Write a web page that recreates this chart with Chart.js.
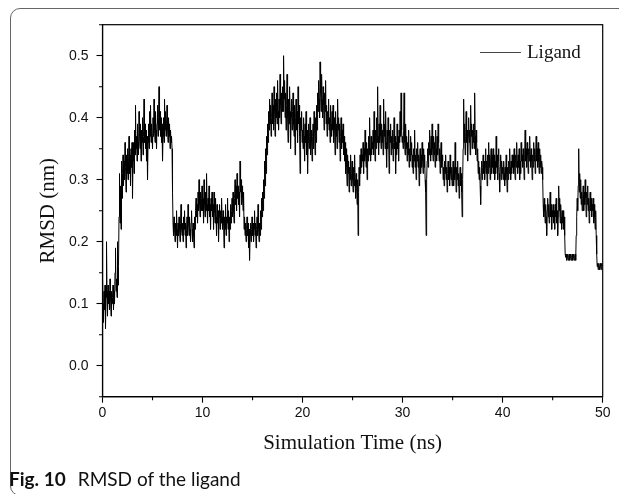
<!DOCTYPE html>
<html>
<head>
<meta charset="utf-8">
<script src="https://cdn.jsdelivr.net/npm/chart.js@4.4.1/dist/chart.umd.min.js"></script>
<style>
html,body{margin:0;padding:0;background:#fff;width:619px;height:494px;overflow:hidden;}
#wrap{position:relative;width:619px;height:494px;}
#frame{position:absolute;left:10px;top:8px;width:640px;height:488px;border:1.5px solid #666;border-radius:10px;box-sizing:border-box;}
#c{position:absolute;left:0;top:0;}
#legend{position:absolute;left:480px;top:42px;height:19px;font-family:'Liberation Serif',serif;font-size:19px;line-height:19px;color:#111;white-space:nowrap;}
#legend .ln{position:absolute;left:0;top:10px;width:41px;height:1px;background:#444;}
#legend .tx{position:absolute;left:47px;top:0;}
#caption{position:absolute;left:9px;top:469px;font-family:Lato,'Open Sans',sans-serif;font-size:19px;line-height:20px;color:#111;white-space:nowrap;}
#caption b{font-weight:700;margin-right:12px;}
</style>
</head>
<body>
<div id="wrap">
  <div id="frame"></div>
  <canvas id="c" width="619" height="494"></canvas>
  <div id="legend"><div class="ln"></div><div class="tx">Ligand</div></div>
  <div id="caption"><b>Fig. 10</b>RMSD of the ligand</div>
</div>
<script>
// Simulation sampling (ns) and RMSD values (nm), one row per ns
const timeStartNs = 0;
const timeStepNs = 0.05;
const rmsdNm = [
  0.14,0.10,0.07,0.12,0.09,0.13,0.06,0.11,0.20,0.12,0.08,0.13,0.10,0.12,0.09,0.14,0.11,0.08,0.12,0.10,
  0.11,0.13,0.09,0.12,0.10,0.15,0.19,0.12,0.14,0.11,0.20,0.13,0.16,0.24,0.31,0.23,0.29,0.22,0.33,0.27,
  0.31,0.34,0.29,0.33,0.30,0.36,0.32,0.28,0.34,0.31,0.35,0.30,0.33,0.37,0.31,0.34,0.29,0.35,0.32,0.36,
  0.27,0.33,0.36,0.31,0.38,0.34,0.42,0.35,0.37,0.33,0.39,0.36,0.34,0.41,0.37,0.35,0.39,0.33,0.38,0.36,
  0.40,0.34,0.37,0.43,0.36,0.39,0.35,0.38,0.33,0.37,0.30,0.36,0.39,0.35,0.41,0.37,0.42,0.36,0.39,0.37,
  0.35,0.40,0.37,0.43,0.38,0.36,0.41,0.38,0.35,0.39,0.42,0.37,0.40,0.45,0.38,0.41,0.37,0.40,0.36,0.39,
  0.33,0.37,0.40,0.36,0.43,0.38,0.41,0.37,0.39,0.42,0.38,0.36,0.40,0.37,0.39,0.35,0.38,0.36,0.37,0.35,
  0.28,0.23,0.21,0.24,0.22,0.20,0.23,0.21,0.25,0.22,0.19,0.23,0.21,0.24,0.22,0.20,0.23,0.26,0.22,0.21,
  0.23,0.20,0.24,0.22,0.25,0.21,0.23,0.19,0.22,0.24,0.21,0.26,0.23,0.21,0.24,0.22,0.20,0.23,0.25,0.22,
  0.20,0.23,0.21,0.19,0.24,0.22,0.25,0.27,0.24,0.26,0.23,0.28,0.25,0.30,0.26,0.24,0.28,0.25,0.27,0.29,
  0.25,0.27,0.23,0.30,0.26,0.24,0.28,0.25,0.31,0.26,0.23,0.27,0.25,0.29,0.24,0.26,0.22,0.27,0.25,0.28,
  0.24,0.26,0.22,0.28,0.25,0.23,0.27,0.24,0.21,0.26,0.23,0.25,0.20,0.24,0.26,0.22,0.25,0.23,0.27,0.24,
  0.22,0.25,0.23,0.19,0.24,0.22,0.26,0.21,0.24,0.23,0.27,0.22,0.25,0.20,0.24,0.22,0.26,0.23,0.25,0.27,
  0.24,0.28,0.25,0.23,0.27,0.30,0.26,0.29,0.25,0.31,0.27,0.29,0.26,0.28,0.24,0.33,0.28,0.30,0.26,0.29,
  0.27,0.25,0.28,0.22,0.24,0.21,0.23,0.20,0.22,0.24,0.21,0.23,0.19,0.22,0.17,0.21,0.23,0.20,0.22,0.24,
  0.21,0.23,0.20,0.22,0.25,0.21,0.23,0.19,0.22,0.24,0.21,0.26,0.22,0.20,0.23,0.21,0.25,0.22,0.27,0.24,
  0.28,0.25,0.30,0.27,0.33,0.29,0.35,0.31,0.37,0.34,0.39,0.36,0.41,0.38,0.43,0.39,0.42,0.37,0.40,0.44,
  0.39,0.42,0.38,0.45,0.41,0.37,0.43,0.40,0.44,0.39,0.46,0.41,0.38,0.43,0.40,0.47,0.42,0.39,0.44,0.41,
  0.45,0.41,0.50,0.43,0.46,0.40,0.44,0.38,0.42,0.47,0.40,0.36,0.43,0.39,0.45,0.41,0.35,0.40,0.43,0.38,
  0.41,0.44,0.39,0.37,0.42,0.34,0.40,0.43,0.38,0.41,0.36,0.45,0.39,0.42,0.37,0.31,0.40,0.38,0.41,0.36,
  0.38,0.35,0.40,0.37,0.33,0.39,0.36,0.41,0.34,0.38,0.31,0.36,0.39,0.35,0.37,0.40,0.34,0.38,0.36,0.33,
  0.37,0.39,0.35,0.41,0.38,0.34,0.40,0.36,0.42,0.38,0.44,0.41,0.46,0.43,0.40,0.49,0.44,0.41,0.47,0.43,
  0.40,0.45,0.42,0.38,0.44,0.41,0.46,0.39,0.42,0.37,0.41,0.39,0.43,0.38,0.40,0.36,0.42,0.39,0.37,0.41,
  0.38,0.42,0.36,0.40,0.38,0.34,0.41,0.37,0.39,0.35,0.43,0.38,0.40,0.36,0.39,0.33,0.37,0.40,0.35,0.38,
  0.36,0.39,0.34,0.37,0.33,0.36,0.31,0.35,0.32,0.29,0.34,0.31,0.33,0.28,0.32,0.30,0.34,0.29,0.31,0.33,
  0.30,0.28,0.32,0.29,0.34,0.30,0.27,0.31,0.29,0.26,0.30,0.21,0.28,0.32,0.29,0.34,0.31,0.35,0.32,0.34,
  0.33,0.36,0.31,0.35,0.33,0.38,0.34,0.32,0.36,0.30,0.35,0.33,0.37,0.34,0.40,0.35,0.33,0.37,0.34,0.36,
  0.35,0.38,0.34,0.41,0.36,0.33,0.38,0.35,0.40,0.36,0.45,0.37,0.34,0.39,0.36,0.42,0.37,0.35,0.39,0.36,
  0.38,0.34,0.43,0.37,0.39,0.35,0.41,0.36,0.32,0.38,0.35,0.40,0.37,0.31,0.38,0.36,0.39,0.34,0.37,0.35,
  0.38,0.33,0.36,0.40,0.35,0.37,0.31,0.36,0.34,0.39,0.35,0.37,0.33,0.38,0.36,0.41,0.37,0.44,0.38,0.36,
  0.37,0.35,0.38,0.44,0.36,0.34,0.39,0.35,0.37,0.33,0.36,0.34,0.38,0.32,0.35,0.33,0.37,0.34,0.36,0.32,
  0.34,0.31,0.35,0.33,0.38,0.32,0.34,0.30,0.35,0.33,0.36,0.32,0.34,0.29,0.33,0.35,0.31,0.34,0.32,0.36,
  0.33,0.31,0.35,0.32,0.34,0.30,0.28,0.21,0.30,0.33,0.35,0.32,0.36,0.34,0.38,0.35,0.33,0.37,0.34,0.39,
  0.35,0.33,0.37,0.34,0.36,0.32,0.38,0.35,0.33,0.37,0.34,0.39,0.36,0.33,0.35,0.31,0.34,0.36,0.32,0.34,
  0.33,0.30,0.32,0.29,0.33,0.31,0.34,0.30,0.32,0.28,0.31,0.33,0.30,0.32,0.29,0.34,0.31,0.30,0.32,0.29,
  0.31,0.33,0.29,0.32,0.30,0.36,0.31,0.28,0.32,0.30,0.33,0.29,0.31,0.27,0.30,0.32,0.29,0.31,0.28,0.24,
  0.30,0.35,0.43,0.36,0.39,0.34,0.37,0.41,0.36,0.38,0.33,0.37,0.40,0.36,0.38,0.34,0.42,0.37,0.39,0.35,
  0.38,0.36,0.39,0.35,0.44,0.37,0.34,0.38,0.36,0.33,0.35,0.31,0.33,0.30,0.32,0.29,0.26,0.31,0.33,0.30,
  0.32,0.34,0.31,0.33,0.30,0.32,0.35,0.31,0.33,0.29,0.34,0.31,0.36,0.32,0.34,0.30,0.33,0.35,0.31,0.34,
  0.32,0.35,0.31,0.34,0.30,0.33,0.31,0.37,0.32,0.34,0.30,0.33,0.35,0.31,0.28,0.32,0.34,0.30,0.33,0.31,
  0.32,0.30,0.33,0.31,0.29,0.32,0.30,0.34,0.31,0.28,0.32,0.30,0.33,0.31,0.35,0.32,0.30,0.33,0.31,0.34,
  0.32,0.34,0.31,0.35,0.32,0.30,0.34,0.32,0.36,0.33,0.31,0.34,0.32,0.35,0.30,0.33,0.31,0.36,0.33,0.34,
  0.32,0.35,0.33,0.30,0.34,0.38,0.33,0.35,0.32,0.36,0.34,0.31,0.35,0.33,0.37,0.34,0.32,0.35,0.33,0.30,
  0.34,0.32,0.36,0.33,0.35,0.31,0.34,0.37,0.33,0.35,0.32,0.36,0.33,0.31,0.35,0.32,0.34,0.31,0.33,0.32,
  0.30,0.26,0.24,0.27,0.25,0.23,0.26,0.24,0.21,0.25,0.27,0.24,0.26,0.23,0.25,0.28,0.24,0.26,0.22,0.25,
  0.24,0.26,0.23,0.25,0.22,0.26,0.24,0.27,0.23,0.25,0.21,0.24,0.29,0.25,0.27,0.23,0.26,0.24,0.22,0.25,
  0.23,0.25,0.22,0.24,0.21,0.18,0.175,0.18,0.17,0.175,0.18,0.17,0.175,0.18,0.17,0.175,0.18,0.17,0.175,0.18,
  0.17,0.175,0.18,0.17,0.175,0.18,0.17,0.21,0.24,0.27,0.25,0.29,0.35,0.28,0.31,0.27,0.30,0.26,0.28,0.25,
  0.27,0.29,0.25,0.28,0.26,0.30,0.27,0.24,0.28,0.26,0.29,0.25,0.27,0.23,0.26,0.28,0.25,0.27,0.24,0.26,
  0.25,0.27,0.23,0.26,0.24,0.22,0.25,0.21,0.18,0.16,0.165,0.155,0.165,0.16,0.155,0.165,0.16,0.155,0.165,0.16,
  0.16
];
const seriesLabel = 'Ligand';
const xMajorTicks = [0, 10, 20, 30, 40, 50];
const xMinorTicks = [5, 15, 25, 35, 45];
const yMajorTicks = [0.0, 0.1, 0.2, 0.3, 0.4, 0.5];
const yMinorTicks = [-0.05, 0.05, 0.15, 0.25, 0.35, 0.45, 0.55];
const xAxisTitle = 'Simulation Time (ns)';
const yAxisTitle = 'RMSD (nm)';

const points = rmsdNm.map((v, i) => ({ x: timeStartNs + i * timeStepNs, y: v }));
const isIn = (arr, v) => arr.some(m => Math.abs(m - v) < 1e-6);

const frameMinor = {
  id: 'frameMinor',
  afterDraw(chart) {
    const { ctx, chartArea: a, scales } = chart;
    ctx.save();
    ctx.strokeStyle = '#000';
    ctx.lineWidth = 1.2;
    ctx.strokeRect(a.left, a.top, a.right - a.left, a.bottom - a.top);
    ctx.lineWidth = 1.1;
    ctx.beginPath();
    xMinorTicks.forEach(v => {
      const px = scales.x.getPixelForValue(v);
      ctx.moveTo(px, a.bottom); ctx.lineTo(px, a.bottom + 3.5);
    });
    yMinorTicks.forEach(v => {
      const py = scales.y.getPixelForValue(v);
      ctx.moveTo(a.left, py); ctx.lineTo(a.left - 3.5, py);
    });
    ctx.stroke();
    ctx.restore();
  }
};

new Chart(document.getElementById('c'), {
  type: 'line',
  data: {
    datasets: [{
      label: seriesLabel,
      data: points,
      borderColor: '#000',
      borderWidth: 1,
      pointRadius: 0,
      tension: 0,
      fill: false
    }]
  },
  options: {
    responsive: false,
    animation: false,
    devicePixelRatio: 1,
    layout: { padding: { left: 0, top: 24.7, right: 16.3, bottom: 37.3 } },
    plugins: { legend: { display: false }, tooltip: { enabled: false } },
    scales: {
      x: {
        type: 'linear', min: 0, max: 50,
        afterFit(s) { s.height = 60; },
        border: { display: true, color: '#000', width: 1.2 },
        grid: {
          drawOnChartArea: false, drawTicks: true, tickLength: 6, tickWidth: 1.1,
          tickColor: c => isIn(xMajorTicks, c.tick.value) ? '#000' : 'rgba(0,0,0,0)'
        },
        ticks: {
          stepSize: 5, autoSkip: false, maxRotation: 0, minRotation: 0, padding: 2,
          color: '#111', font: { family: 'Liberation Sans', size: 14 },
          callback: v => isIn(xMajorTicks, v) ? String(Math.round(v)) : ''
        },
        title: {
          display: true, text: xAxisTitle, color: '#111',
          font: { family: 'Liberation Serif', size: 21 },
          padding: { top: 0, bottom: 1.1 }
        }
      },
      y: {
        type: 'linear', min: -0.05, max: 0.55,
        afterFit(s) { s.width = 102.5; },
        border: { display: true, color: '#000', width: 1.2 },
        grid: {
          drawOnChartArea: false, drawTicks: true, tickLength: 6, tickWidth: 1.1,
          tickColor: c => isIn(yMajorTicks, c.tick.value) ? '#000' : 'rgba(0,0,0,0)'
        },
        ticks: {
          stepSize: 0.05, autoSkip: false, padding: 8,
          color: '#111', font: { family: 'Liberation Sans', size: 14 },
          callback: v => isIn(yMajorTicks, v) ? v.toFixed(1) : ''
        },
        title: {
          display: true, text: yAxisTitle, color: '#111',
          font: { family: 'Liberation Serif', size: 21 },
          padding: { top: 35.9, bottom: 0 }
        }
      }
    }
  },
  plugins: [frameMinor]
});
</script>
</body>
</html>
